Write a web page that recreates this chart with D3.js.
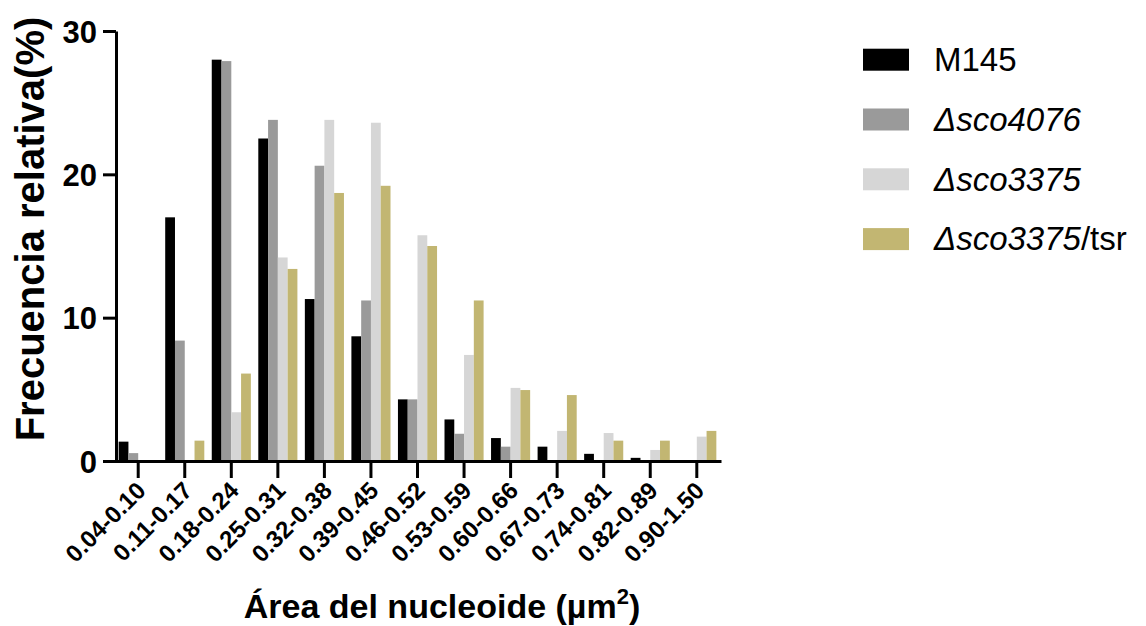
<!DOCTYPE html>
<html><head><meta charset="utf-8">
<script src="https://cdn.jsdelivr.net/npm/d3@7"></script>
<style>body{margin:0;background:#fff}svg{display:block}</style>
</head><body>
<svg id="c" width="1146" height="626"></svg>
<script>
const categories = ["0.04-0.10","0.11-0.17","0.18-0.24","0.25-0.31","0.32-0.38","0.39-0.45","0.46-0.52","0.53-0.59","0.60-0.66","0.67-0.73","0.74-0.81","0.82-0.89","0.90-1.50"];
const seriesKeys = ["M145","sco4076","sco3375","sco3375tsr"];
const m145       = [1.35, 17.0, 28.0, 22.5, 11.3, 8.7, 4.3, 2.9, 1.6, 1.0, 0.5, 0.22, 0];
const sco4076    = [0.55, 8.4, 27.9, 23.8, 20.6, 11.2, 4.3, 1.9, 1.0, 0, 0, 0, 0];
const sco3375    = [0, 0, 3.4, 14.2, 23.8, 23.6, 15.75, 7.4, 5.1, 2.1, 1.95, 0.77, 1.7];
const sco3375tsr = [0, 1.42, 6.1, 13.4, 18.7, 19.2, 15.0, 11.2, 4.95, 4.6, 1.42, 1.42, 2.1];
const yTicks = [0, 10, 20, 30];
const colors = ["#000000", "#9a9a9a", "#d6d6d6", "#c2b672"];

const values = [m145, sco4076, sco3375, sco3375tsr];
const svg = d3.select("#c");
const font = "'Liberation Sans', Arial, sans-serif";

const x0 = d3.scaleBand().domain(categories).range([114, 721]).paddingInner(0.16).paddingOuter(0.1);
const x1 = d3.scaleBand().domain(seriesKeys).range([0, x0.bandwidth()]).padding(0);
const y = d3.scaleLinear().domain([0, 30]).range([461, 31]);

// bars
const groups = svg.append("g").selectAll("g").data(categories).join("g")
  .attr("transform", c => `translate(${x0(c)},0)`);
groups.selectAll("rect")
  .data((c, i) => seriesKeys.map((k, s) => ({k, s, v: values[s][i]})))
  .join("rect")
  .attr("x", d => x1(d.k))
  .attr("width", x1.bandwidth())
  .attr("y", d => y(d.v))
  .attr("height", d => y(0) - y(d.v))
  .attr("fill", d => colors[d.s]);

// y axis
const yAxis = svg.append("g").attr("transform", "translate(116,0)")
  .call(d3.axisLeft(y).tickValues(yTicks).tickSize(13).tickSizeOuter(0).tickPadding(6));
yAxis.select(".domain").attr("stroke", "#000").attr("stroke-width", 3);
yAxis.selectAll(".tick line").attr("stroke", "#000").attr("stroke-width", 3);
yAxis.selectAll(".tick text").attr("font-family", font).attr("font-size", 31)
  .attr("font-weight", "bold").attr("fill", "#000").attr("dy", "0.36em");

// x axis
const xAxis = svg.append("g").attr("transform", `translate(0,${y(0)})`)
  .call(d3.axisBottom(x0).tickSize(17).tickSizeOuter(0));
xAxis.select(".domain").attr("stroke", "#000").attr("stroke-width", 3);
xAxis.selectAll(".tick line").attr("stroke", "#000").attr("stroke-width", 3);
xAxis.selectAll(".tick text")
  .attr("font-family", font).attr("font-size", 24).attr("font-weight", "bold").attr("fill", "#000")
  .attr("x", 0).attr("y", 0).attr("dy", 0)
  .attr("transform", "translate(9,31) rotate(-45)")
  .style("text-anchor", "end");

// y title
svg.append("text")
  .attr("transform", "translate(44,229) rotate(-90)")
  .attr("text-anchor", "middle")
  .attr("font-family", font).attr("font-size", 40).attr("font-weight", "bold").attr("fill", "#000")
  .text("Frecuencia relativa(%)");

// x title
const xt = svg.append("text")
  .attr("x", 442).attr("y", 618).attr("text-anchor", "middle")
  .attr("font-family", font).attr("font-size", 34).attr("font-weight", "bold").attr("fill", "#000");
xt.append("tspan").text("Área del nucleoide (µm");
xt.append("tspan").attr("font-size", 22).attr("dy", -14).text("2");
xt.append("tspan").attr("dy", 14).text(")");

// legend
const legendLabels = [
  [{t: "M145", i: false}],
  [{t: "Δsco4076", i: true}],
  [{t: "Δsco3375", i: true}],
  [{t: "Δsco3375", i: true}, {t: "/tsr", i: false}]
];
const lg = svg.append("g").selectAll("g").data(legendLabels).join("g")
  .attr("transform", (d, i) => `translate(863,${59.7 + i * 59.8})`);
lg.append("rect").attr("x", 0).attr("y", -11).attr("width", 46).attr("height", 22)
  .attr("fill", (d, i) => colors[i]);
const lt = lg.append("text").attr("x", 71).attr("y", 0).attr("dy", "0.34em")
  .attr("font-family", font).attr("font-size", 33).attr("fill", "#000");
lt.selectAll("tspan").data(d => d).join("tspan")
  .attr("font-style", d => d.i ? "italic" : "normal")
  .text(d => d.t);
</script>
</body></html>
